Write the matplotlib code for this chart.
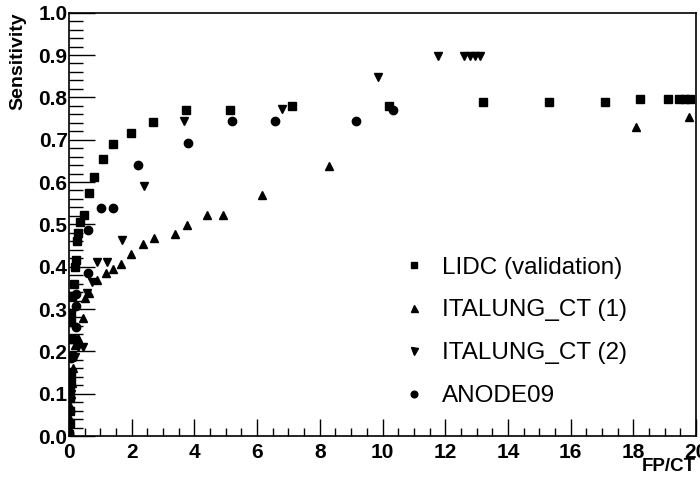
import matplotlib
matplotlib.use("Agg")
import matplotlib.pyplot as plt
from matplotlib.ticker import MultipleLocator

plt.rcParams['font.family'] = ['Liberation Sans', 'DejaVu Sans']

# ---- data ----
lidc_x = [0.0, 0.02, 0.02, 0.03, 0.04, 0.05, 0.06, 0.08, 0.10, 0.07, 0.07, 0.10, 0.16, 0.20,
          0.22, 0.25, 0.28, 0.35, 0.48, 0.64, 0.80, 1.08, 1.40, 1.97, 2.68, 3.73, 5.15, 7.10,
          10.2, 13.2, 15.3, 17.1, 18.2, 19.1, 19.45, 19.65, 19.8]
lidc_y = [0.005, 0.03, 0.06, 0.09, 0.11, 0.13, 0.15, 0.19, 0.23, 0.27, 0.29, 0.33, 0.36, 0.40,
          0.415, 0.46, 0.48, 0.505, 0.522, 0.574, 0.612, 0.654, 0.69, 0.716, 0.742, 0.77, 0.77, 0.78,
          0.78, 0.788, 0.788, 0.788, 0.796, 0.796, 0.796, 0.796, 0.796]

it1_x = [0.02, 0.03, 0.04, 0.05, 0.08, 0.12, 0.19, 0.29, 0.45, 0.51, 0.64, 0.89, 1.18, 1.40,
         1.66, 1.98, 2.36, 2.71, 3.38, 3.76, 4.40, 4.91, 6.16, 8.29, 18.1, 19.78]
it1_y = [0.01, 0.04, 0.07, 0.10, 0.125, 0.16, 0.215, 0.232, 0.279, 0.326, 0.338, 0.369, 0.385, 0.395,
         0.406, 0.43, 0.454, 0.468, 0.477, 0.498, 0.522, 0.522, 0.569, 0.638, 0.73, 0.754]

it2_x = [0.02, 0.04, 0.06, 0.10, 0.19, 0.29, 0.45, 0.57, 0.73, 0.89, 1.21, 1.69, 2.39, 3.67,
         6.8, 9.86, 11.77, 12.6, 12.8, 12.95, 13.1]
it2_y = [0.02, 0.06, 0.10, 0.15, 0.187, 0.21, 0.21, 0.338, 0.364, 0.411, 0.411, 0.463, 0.59, 0.744,
         0.772, 0.848, 0.898, 0.898, 0.898, 0.898, 0.898]

an_x = [0.0, 0.01, 0.02, 0.03, 0.03, 0.05, 0.22, 0.22, 0.22, 0.61, 0.61, 1.02, 1.40, 2.20, 3.80,
        5.20, 6.57, 9.15, 10.33]
an_y = [0.007, 0.03, 0.06, 0.09, 0.12, 0.184, 0.257, 0.307, 0.335, 0.385, 0.487, 0.539, 0.539,
        0.64, 0.692, 0.744, 0.744, 0.744, 0.77]

labels = ["LIDC (validation)", "ITALUNG_CT (1)", "ITALUNG_CT (2)", "ANODE09"]

# ---- figure ----
fig = plt.figure(figsize=(7.0, 4.78), dpi=100)
ax = fig.add_axes([69/700, 42/478, 627/700, (436-12.7)/478])

ms = 5.5
ax.plot(lidc_x, lidc_y, ls='none', marker='s', ms=ms, color='black', label=labels[0])
ax.plot(it1_x, it1_y, ls='none', marker='^', ms=ms+0.8, color='black', label=labels[1])
ax.plot(it2_x, it2_y, ls='none', marker='v', ms=ms+0.8, color='black', label=labels[2])
ax.plot(an_x, an_y, ls='none', marker='o', ms=ms+0.5, color='black', label=labels[3])

ax.set_xlim(0, 20)
ax.set_ylim(0, 1.0)
ax.xaxis.set_major_locator(MultipleLocator(2))
ax.xaxis.set_minor_locator(MultipleLocator(0.5))
ax.yaxis.set_major_locator(MultipleLocator(0.1))
ax.yaxis.set_minor_locator(MultipleLocator(0.02))
ax.xaxis.set_major_formatter(plt.FuncFormatter(lambda v, p: f"{v:.0f}"))
ax.yaxis.set_major_formatter(plt.FuncFormatter(lambda v, p: f"{v:.1f}"))

ax.tick_params(axis='both', which='both', direction='in', top=False, right=False, width=1)
ax.tick_params(axis='y', which='major', length=19, pad=1)
ax.tick_params(axis='y', which='minor', length=10)
ax.tick_params(axis='x', which='major', length=12, pad=5)
ax.tick_params(axis='x', which='minor', length=6)
for lab in ax.get_xticklabels() + ax.get_yticklabels():
    lab.set_fontweight('bold')
    lab.set_fontsize(15)
for sp in ax.spines.values():
    sp.set_linewidth(1.2)

ax.set_ylabel("Sensitivity", fontsize=14, fontweight='bold')
ax.yaxis.set_label_coords(-0.068, 1.0)
ax.yaxis.label.set_horizontalalignment('right')
ax.set_xlabel("FP/CT", fontsize=13.5, fontweight='bold')
ax.xaxis.set_label_coords(1.0, -0.053)
ax.xaxis.label.set_horizontalalignment('right')

leg = ax.legend(loc='upper left', bbox_to_anchor=(0.511, 0.447), frameon=False,
                prop={'size': 17.5}, markerscale=0.8, handletextpad=0.55,
                labelspacing=0.86, handlelength=1.2, borderaxespad=0)

fig.savefig("out.png", dpi=100)
